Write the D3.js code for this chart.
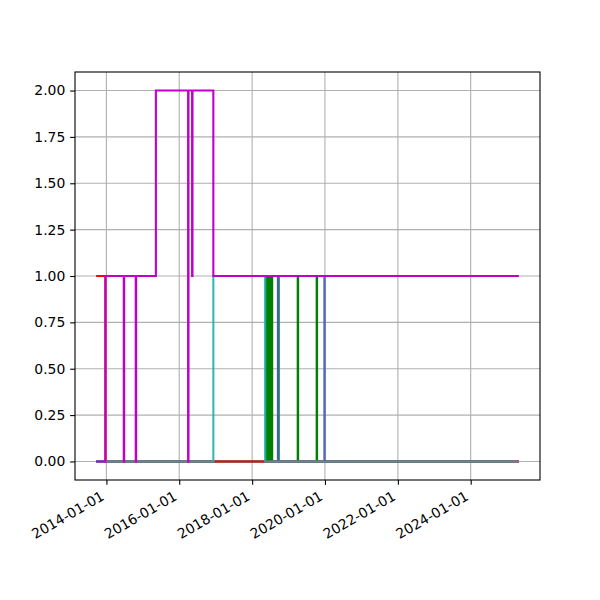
<!DOCTYPE html>
<html>
<head>
<meta charset="utf-8">
<script src="https://cdn.jsdelivr.net/npm/d3@7"></script>
<style>
  body { margin: 0; background: #fff; }
  text { font-family: "DejaVu Sans", sans-serif; }
</style>
</head>
<body>
<svg id="chart" width="600" height="600"></svg>
<script>
// ---- data ----
const xTickLabels = ["2014-01-01", "2016-01-01", "2018-01-01", "2020-01-01", "2022-01-01", "2024-01-01"];
const yTickValues = [0, 0.25, 0.5, 0.75, 1.0, 1.25, 1.5, 1.75, 2.0];

const greenDates = ["2013-09-20", "2018-05-18", "2018-05-21", "2018-05-30", "2018-06-02", "2018-06-11", "2018-06-14", "2018-06-23", "2018-06-26", "2018-07-05", "2018-07-08", "2018-07-17", "2018-07-21", "2018-09-20", "2018-09-24", "2019-04-03", "2019-04-07", "2019-10-10", "2019-10-14", "2025-04-28"];
const greenValues = [0, 1, 0, 1, 0, 1, 0, 1, 0, 1, 0, 1, 0, 1, 0, 1, 0, 1, 0, 0];

const blueDates = ["2013-09-20", "2018-09-16", "2018-09-19", "2019-12-26", "2019-12-30", "2025-04-28"];
const blueValues = [0, 1, 0, 1, 0, 0];

const redDates = ["2013-09-20", "2013-12-22", "2025-04-28"];
const redValues = [1, 0, 0];

const cyanDates = ["2013-09-20", "2016-12-08", "2018-05-12", "2025-04-28"];
const cyanValues = [0, 1, 0, 0];

const magentaDates = ["2013-09-20", "2013-12-22", "2014-06-24", "2014-06-28", "2014-10-22", "2014-10-26", "2015-05-12", "2016-03-30", "2016-04-03", "2016-05-09", "2016-05-13", "2016-12-08", "2025-04-28"];
const magentaValues = [0, 1, 0, 1, 0, 1, 2, 0, 2, 1, 2, 1, 1];

const seriesList = [
  { dates: greenDates, values: greenValues, color: "#008000", opacity: 1 },
  { dates: blueDates, values: blueValues, color: "#3f5fbf", opacity: 0.9 },
  { dates: redDates, values: redValues, color: "#ff0000", opacity: 1 },
  { dates: cyanDates, values: cyanValues, color: "#1fb0b0", opacity: 0.9 },
  { dates: magentaDates, values: magentaValues, color: "#c000c8", opacity: 1 }
];

// ---- layout ----
const svg = d3.select("#chart");
const mLeft = 75, mRight = 540, mTop = 72, mBottom = 480;
const parse = d3.utcParse("%Y-%m-%d");

const allDates = seriesList.flatMap(s => s.dates.map(parse));
const tMin = d3.min(allDates), tMax = d3.max(allDates);
const pad = (tMax - tMin) * 0.05;
const x = d3.scaleUtc().domain([new Date(+tMin - pad), new Date(+tMax + pad)]).range([mLeft, mRight]);
const y = d3.scaleLinear().domain([-0.1, 2.1]).range([mBottom, mTop]);

const xTicks = xTickLabels.map(parse);

// grid
const grid = svg.append("g");
grid.selectAll("line.xg").data(xTicks).join("line")
  .attr("x1", d => x(d)).attr("x2", d => x(d)).attr("y1", mTop).attr("y2", mBottom)
  .attr("stroke", "#b0b0b0").attr("stroke-width", 1.1);
grid.selectAll("line.yg").data(yTickValues).join("line")
  .attr("x1", mLeft).attr("x2", mRight).attr("y1", d => y(d)).attr("y2", d => y(d))
  .attr("stroke", "#b0b0b0").attr("stroke-width", 1.1);

// lines
const line = d3.line().curve(d3.curveStepAfter).x(d => x(d[0])).y(d => y(d[1]));
svg.append("g").selectAll("path").data(seriesList).join("path")
  .attr("d", s => line(s.dates.map((d, i) => [parse(d), s.values[i]])))
  .attr("fill", "none")
  .attr("stroke", s => s.color)
  .attr("stroke-opacity", s => s.opacity)
  .attr("stroke-width", 2.08);

// axes
const xAxis = d3.axisBottom(x).tickValues(xTicks).tickFormat(d3.utcFormat("%Y-%m-%d")).tickSize(4.86).tickPadding(4.86);
const gx = svg.append("g").attr("transform", `translate(0,${mBottom})`).call(xAxis);
gx.select(".domain").remove();
gx.selectAll(".tick line").attr("stroke", "#000").attr("stroke-width", 1.1);
gx.selectAll(".tick text")
  .attr("font-size", 13.9).attr("fill", "#000")
  .attr("text-anchor", "end")
  .attr("dy", null)
  .attr("y", 0)
  .attr("transform", "translate(-1.7,19) rotate(-30)");

const yAxis = d3.axisLeft(y).tickValues(yTickValues).tickFormat(d3.format(".2f")).tickSize(4.86).tickPadding(4.86);
const gy = svg.append("g").attr("transform", `translate(${mLeft},0)`).call(yAxis);
gy.select(".domain").remove();
gy.selectAll(".tick line").attr("stroke", "#000").attr("stroke-width", 1.1);
gy.selectAll(".tick text").attr("font-size", 13.9).attr("fill", "#000");

// frame
svg.append("rect").attr("x", mLeft).attr("y", mTop).attr("width", mRight - mLeft).attr("height", mBottom - mTop)
  .attr("fill", "none").attr("stroke", "#000").attr("stroke-width", 1.1);
</script>
</body>
</html>
